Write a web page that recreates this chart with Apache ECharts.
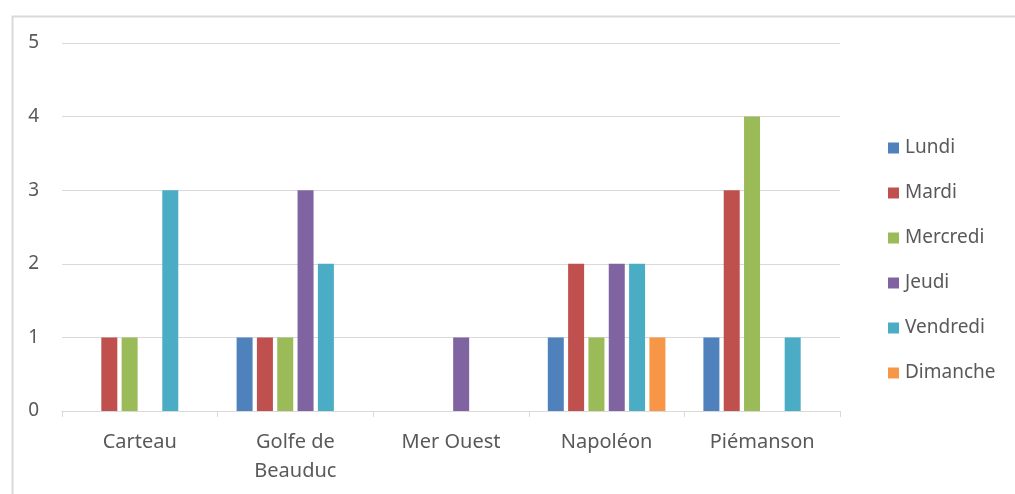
<!DOCTYPE html>
<html><head><meta charset="utf-8">
<script src="https://cdn.jsdelivr.net/npm/echarts@6/dist/echarts.min.js"></script>
<style>html,body{margin:0;padding:0;background:#fff}#c{width:1015px;height:494px}</style>
</head><body><div id="c"></div>
<script>
const categories = ['Carteau', 'Golfe de\nBeauduc', 'Mer Ouest', 'Napoléon', 'Piémanson'];
const seriesNames = ['Lundi', 'Mardi', 'Mercredi', 'Jeudi', 'Vendredi', 'Dimanche'];
const lundi    = [0, 1, 0, 1, 1];
const mardi    = [1, 1, 0, 2, 3];
const mercredi = [1, 1, 0, 1, 4];
const jeudi    = [0, 3, 1, 2, 0];
const vendredi = [3, 2, 0, 2, 1];
const dimanche = [0, 0, 0, 1, 0];
const yTicks = [0, 1, 2, 3, 4, 5];

const values = [lundi, mardi, mercredi, jeudi, vendredi, dimanche];
const colors = ['#4F81BD', '#C0504D', '#9BBB59', '#8064A2', '#4BACC6', '#F79646'];
const font = 'Noto Sans';

const chart = echarts.init(document.getElementById('c'), null, {renderer: 'canvas'});
chart.setOption({
  animation: false,
  backgroundColor: '#fff',
  graphic: [{
    type: 'rect', left: 10, top: 14,
    shape: {width: 1020, height: 500},
    style: {fill: 'none', stroke: '#d9d9d9', lineWidth: 2},
    silent: true
  }],
  grid: {left: 62, right: 175, top: 43, bottom: 83, containLabel: false},
  legend: {
    orient: 'vertical', left: 883, top: 132,
    itemWidth: 11, itemHeight: 11, itemGap: 23,
    icon: 'rect',
    textStyle: {fontFamily: font, fontSize: 19, color: '#595959', lineHeight: 22, padding: [0, 0, 0, 1]},
    data: seriesNames
  },
  xAxis: {
    type: 'category', data: categories,
    axisLine: {lineStyle: {color: '#d9d9d9', width: 1}},
    axisTick: {show: true, length: 6, lineStyle: {color: '#d9d9d9'}},
    axisLabel: {fontFamily: font, fontSize: 20, color: '#595959', margin: 17, lineHeight: 29, interval: 0}
  },
  yAxis: {
    type: 'value', min: yTicks[0], max: yTicks[yTicks.length - 1], interval: 1,
    axisLine: {show: false}, axisTick: {show: false},
    splitLine: {lineStyle: {color: '#d9d9d9', width: 1}},
    axisLabel: {fontFamily: font, fontSize: 19, color: '#595959', margin: 23}
  },
  series: seriesNames.map((n, i) => ({
    name: n, type: 'bar', data: values[i],
    barWidth: 16, barGap: '27%',
    itemStyle: {color: colors[i]}
  }))
});
</script></body></html>
